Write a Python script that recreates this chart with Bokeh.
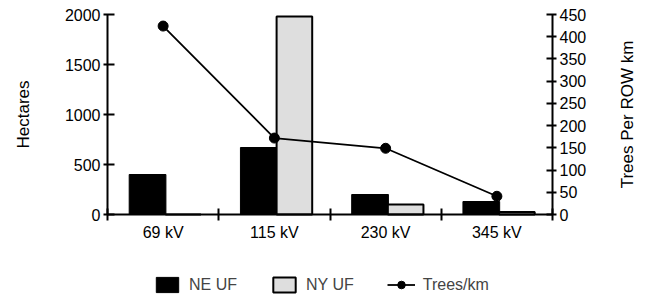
import math
from bokeh.plotting import figure
from bokeh.models import (Range1d, LinearAxis, FixedTicker, Legend, LegendItem,
                          ColumnDataSource, Label)
from bokeh.transform import dodge
from bokeh.embed import file_html
from bokeh.resources import INLINE

categories = ["69 kV", "115 kV", "230 kV", "345 kV"]
ne_uf = [400, 670, 200, 130]
ny_uf = [0, 1980, 100, 25]
trees_per_km = [424, 172, 149, 41]

left_ticks = [0, 500, 1000, 1500, 2000]
right_ticks = [0, 50, 100, 150, 200, 250, 300, 350, 400, 450]

n = len(categories)
centers = [i + 0.5 for i in range(n)]
bounds = [float(i) for i in range(n + 1)]
src = ColumnDataSource(dict(x=centers, ne=ne_uf, ny=ny_uf, trees=trees_per_km))

FONT = "Liberation Sans"

# ---- layout (pixels) ----
W, H = 638, 300
AX_L, AX_R, AX_TOP, AX_ZERO = 107, 552, 14, 214
LEFT_MAX, RIGHT_MAX = left_ticks[-1], right_ticks[-1]
px_cat = (AX_R - AX_L) / n
lu = LEFT_MAX / (AX_ZERO - AX_TOP)     # left units per pixel
ru = RIGHT_MAX / (AX_ZERO - AX_TOP)    # right units per pixel

p = figure(width=W, height=H,
           x_range=Range1d(-AX_L / px_cat, n + (W - AX_R) / px_cat),
           y_range=Range1d(-(H - AX_ZERO) * lu, LEFT_MAX + AX_TOP * lu),
           x_axis_type=None, y_axis_type=None,
           output_backend="svg", toolbar_location=None, min_border=0)
p.outline_line_color = None
p.extra_y_ranges = {"trees": Range1d(-(H - AX_ZERO) * ru, RIGHT_MAX + AX_TOP * ru)}

ne = p.vbar(x=dodge("x", -0.14), top="ne", width=0.33, source=src,
            fill_color="black", line_color="black", line_width=1)
ny = p.vbar(x=dodge("x", 0.18), top="ny", width=0.32, source=src,
            fill_color="#dedede", line_color="black", line_width=2)
ln = p.line(x="x", y="trees", source=src, y_range_name="trees",
            line_color="black", line_width=1.8)
sc = p.scatter(x="x", y="trees", source=src, y_range_name="trees",
               size=10, fill_color="black", line_color="black")


def style(ax, tin, tout):
    ax.axis_line_width = 2
    ax.major_tick_line_width = 2
    ax.major_tick_in = tin
    ax.major_tick_out = tout
    ax.minor_tick_line_color = None
    ax.major_label_text_font = FONT
    ax.major_label_text_font_size = "16px"
    ax.major_label_text_color = "black"
    ax.major_label_standoff = 3


yl = LinearAxis(ticker=FixedTicker(ticks=left_ticks), bounds=(0, LEFT_MAX),
                fixed_location=bounds[0])
style(yl, 7, 4)
p.add_layout(yl, "left")

yr = LinearAxis(ticker=FixedTicker(ticks=right_ticks), y_range_name="trees",
                bounds=(0, RIGHT_MAX), fixed_location=bounds[-1])
style(yr, 6, 4)
p.add_layout(yr, "right")

xa = LinearAxis(ticker=FixedTicker(ticks=centers, minor_ticks=bounds),
                major_label_overrides={c: lab for c, lab in zip(centers, categories)},
                bounds=(bounds[0], bounds[-1]), fixed_location=0)
style(xa, 0, 0)
xa.major_tick_line_color = None
xa.minor_tick_line_color = "black"
xa.minor_tick_line_width = 2
xa.minor_tick_in = 6
xa.minor_tick_out = 6
xa.major_label_standoff = 3
p.add_layout(xa, "below")

p.add_layout(Label(x=22.5, y=LEFT_MAX / 2, x_units="screen", text="Hectares",
                   angle=math.pi / 2, text_align="center", text_baseline="middle",
                   text_font=FONT, text_font_size="17px", text_color="black"))
p.add_layout(Label(x=627, y=RIGHT_MAX / 2, x_units="screen", y_range_name="trees",
                   text="Trees Per ROW km", angle=math.pi / 2, text_align="center",
                   text_baseline="middle", text_font=FONT, text_font_size="17px",
                   text_color="black"))

legend = Legend(items=[LegendItem(label="NE UF", renderers=[ne]),
                       LegendItem(label="NY UF", renderers=[ny]),
                       LegendItem(label="Trees/km", renderers=[ln, sc])],
                orientation="horizontal", location=(153, 6),
                glyph_width=28, glyph_height=19, label_height=19,
                label_standoff=8, spacing=33, padding=0, margin=0,
                label_text_font=FONT, label_text_font_size="16px",
                border_line_color=None, background_fill_alpha=0)
p.add_layout(legend, "center")

open("out.html", "w").write(file_html(p, INLINE))
